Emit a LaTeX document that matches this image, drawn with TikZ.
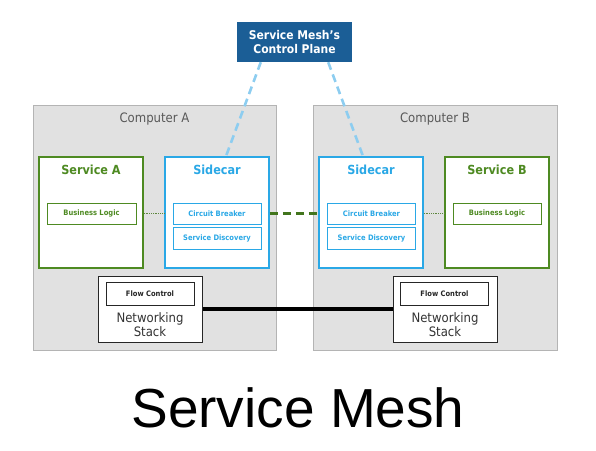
\documentclass[tikz,border=0pt]{standalone}
\usepackage{fontspec}
\setmainfont{DejaVu Sans Condensed}
\newfontfamily\titlefont{Liberation Sans}
\usetikzlibrary{positioning}
\definecolor{meshblue}{HTML}{1B5E96}
\definecolor{carblue}{HTML}{2AA8E6}
\definecolor{linkblue}{HTML}{8DCDF0}
\definecolor{svcgreen}{HTML}{4E8A22}
\definecolor{hostgray}{HTML}{E1E1E1}
\definecolor{hostline}{HTML}{B4B4B4}
\definecolor{hosttext}{HTML}{595959}
\tikzstyle{host} = [draw=hostline, fill=hostgray, line width=0.8pt,
    rectangle, minimum width=243pt, minimum height=245pt, inner sep=0pt]
\tikzstyle{hosttitle} = [text=hosttext, font=\fontsize{13}{15}\selectfont, inner sep=0pt]
\tikzstyle{svcbox} = [draw=svcgreen, fill=white, line width=1.6pt,
    minimum width=104pt, minimum height=111pt, inner sep=0pt]
\tikzstyle{carbox} = [svcbox, draw=carblue]
\tikzstyle{boxtitle} = [font=\fontsize{12.5}{14}\selectfont\bfseries, inner sep=0pt]
\tikzstyle{part} = [rectangle, fill=white, line width=0.9pt, minimum width=88pt,
    minimum height=21pt, inner sep=0pt, font=\fontsize{7.5}{8}\selectfont\bfseries]
\tikzstyle{netbox} = [draw=black!85, fill=white, line width=1pt,
    minimum width=104pt, minimum height=66pt, inner sep=0pt]

\begin{document}
\begin{tikzpicture}[x=1pt,y=-1pt]
	\useasboundingbox (0,0) rectangle (596,450);

	% computers
	\node[host] (hostA) at (154.5,227.5) {};
	\node[host, minimum width=244pt] (hostB) at (435,227.5) {};
	\node[hosttitle, below=8pt of hostA.north] (hostAtitle) {Computer A};
	\node[hosttitle, below=8pt of hostB.north] (hostBtitle) {Computer B};

	% control plane
	\node[fill=meshblue, text=white, minimum width=115pt, minimum height=40pt,
		inner sep=0pt, align=center, font=\fontsize{12}{14}\selectfont\bfseries]
		(plane) at (294.5,42) {Service Mesh's\\Control Plane};

	% computer A
	\node[svcbox] (svcA) at (91,212.5) {};
	\node[carbox] (carA) at (217,212.5) {};
	\node[boxtitle, text=svcgreen, below=9pt of svcA.north] (svcAtitle) {Service A};
	\node[boxtitle, text=carblue, below=9pt of carA.north] (carAtitle) {Sidecar};
	\node[part, draw=svcgreen, text=svcgreen, minimum width=89pt] (logicA) at (91.5,213.5) {Business Logic};
	\node[part, draw=carblue, text=carblue] (breakA) at (217,213.5) {Circuit Breaker};
	\node[part, draw=carblue, text=carblue, minimum height=22pt] (findA) at (217,238) {Service Discovery};

	% computer B
	\node[carbox] (carB) at (371,212.5) {};
	\node[svcbox] (svcB) at (497,212.5) {};
	\node[boxtitle, text=carblue, below=9pt of carB.north] (carBtitle) {Sidecar};
	\node[boxtitle, text=svcgreen, below=9pt of svcB.north] (svcBtitle) {Service B};
	\node[part, draw=carblue, text=carblue] (breakB) at (371.5,213.5) {Circuit Breaker};
	\node[part, draw=carblue, text=carblue, minimum height=22pt] (findB) at (371.5,238) {Service Discovery};
	\node[part, draw=svcgreen, text=svcgreen] (logicB) at (497,213.5) {Business Logic};

	% networking
	\node[netbox] (netA) at (150,309) {};
	\node[netbox] (netB) at (445,309) {};
	\node[part, draw=black!85, text=black!85, minimum height=23pt] (flowA) at (150,293.5) {Flow Control};
	\node[part, draw=black!85, text=black!85, minimum height=23pt] (flowB) at (444.5,293.5) {Flow Control};
	\node[align=center, text=black!80, inner sep=0pt, font=\fontsize{13}{14}\selectfont]
		(stackA) at (150,325) {Networking\\Stack};
	\node[align=center, text=black!80, inner sep=0pt, font=\fontsize{13}{14}\selectfont]
		(stackB) at (445,325) {Networking\\Stack};

	% links
	\draw[linkblue, line width=2.6pt, dash pattern=on 8pt off 5pt]
		([xshift=24pt]plane.south west) -- ([xshift=9pt]carA.north);
	\draw[linkblue, line width=2.6pt, dash pattern=on 8pt off 5pt]
		([xshift=-24pt]plane.south east) -- ([xshift=-8pt]carB.north);
	\draw[svcgreen!70!gray, line width=0.8pt, densely dotted]
		(svcA.east |- logicA.east) -- (carA.west |- logicA.east);
	\draw[svcgreen!70!gray, line width=0.8pt, densely dotted]
		(carB.east |- logicB.west) -- (svcB.west |- logicB.west);
	\draw[svcgreen!85!black, line width=3.2pt, dash pattern=on 8pt off 5pt]
		(carA.east |- breakA.east) -- (carB.west |- breakB.west);
	\draw[black, line width=3.6pt] (netA.east) -- (netB.west);

	% title
	\node[font=\titlefont\fontsize{55}{60}\selectfont, inner sep=0pt] (title) at (298,408) {Service Mesh};
\end{tikzpicture}
\end{document}
